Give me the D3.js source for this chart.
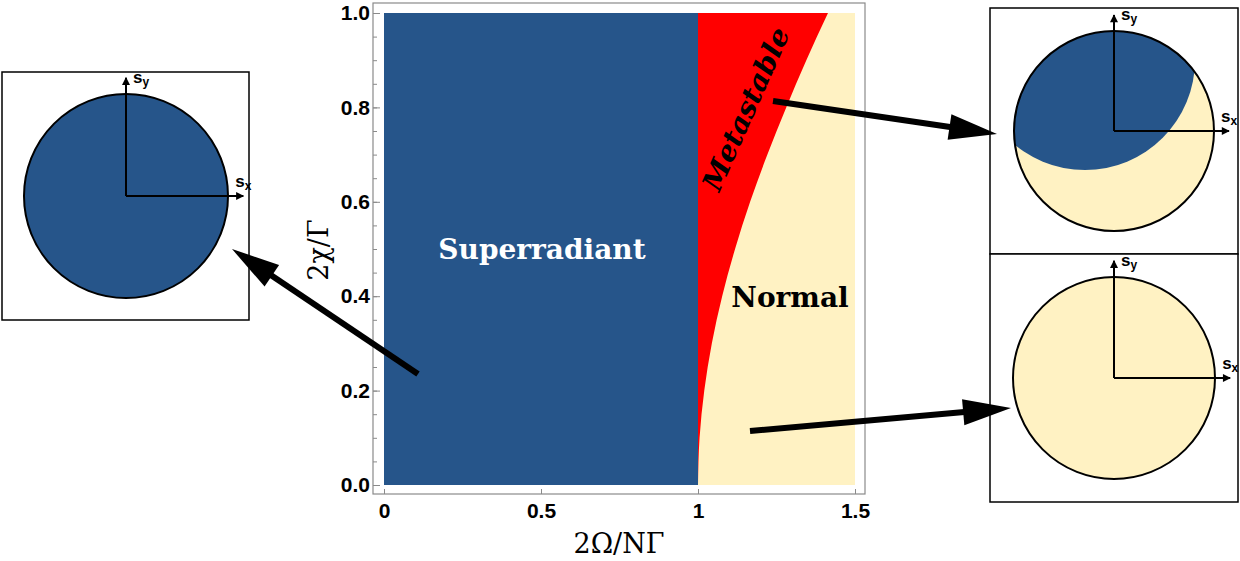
<!DOCTYPE html>
<html>
<head>
<meta charset="utf-8">
<script src="https://cdn.jsdelivr.net/npm/d3@7"></script>
<style>
  body { margin: 0; background: #fff; }
  svg { display: block; }
</style>
</head>
<body>
<div id="chart"></div>
<script>
// axis ticks of the phase diagram
let xTicks = [0, 0.5, 1, 1.5];
let xTickLabels = ['0', '0.5', '1', '1.5'];
let yTicks = [0, 0.2, 0.4, 0.6, 0.8, 1.0];
let yTickLabels = ['0.0', '0.2', '0.4', '0.6', '0.8', '1.0'];
let yMinorTicks = d3.range(0, 21).map(i => i / 20);

// metastable / normal boundary
let chiBoundary   = [0, 0.1, 0.2, 0.3, 0.4, 0.5, 0.6, 0.7, 0.8, 0.9, 1.0];
let omegaBoundary = [1.0, 1.005, 1.02, 1.044, 1.077, 1.118, 1.166, 1.221, 1.281, 1.345, 1.414];

let phaseNames = ['Superradiant', 'Metastable', 'Normal'];

// phase portraits in the (sx, sy) plane
let insetPhases = ['superradiant', 'bistable', 'normal'];
let bistableCenter = [-0.29, 0.71];
let bistableRadius = 1.1;

const blue = '#26558a';
const red = '#ff0000';
const cream = '#fff2c3';

var svg = d3.select('#chart')
    .append('svg')
    .attr('width', 1240)
    .attr('height', 561);

let x = d3.scaleLinear().domain([0, 1.5]).range([384, 855]);
let y = d3.scaleLinear().domain([0, 1]).range([485, 13]);

let frame = { left: 373, top: 3, right: 865, bottom: 494 };

// regions
let plot = svg.append('g').attr('id', 'plot');

plot.append('rect')
    .attr('x', x(0)).attr('y', y(1))
    .attr('width', x(1) - x(0)).attr('height', y(0) - y(1))
    .attr('fill', blue);

plot.append('rect')
    .attr('x', x(1)).attr('y', y(1))
    .attr('width', x(1.5) - x(1)).attr('height', y(0) - y(1))
    .attr('fill', cream);

let boundary = chiBoundary.map((c, i) => ({ chi: c, omega: omegaBoundary[i] }));

let area = d3.area()
    .y(d => y(d.chi))
    .x0(x(1))
    .x1(d => x(d.omega))
    .curve(d3.curveMonotoneY);

plot.append('path')
    .datum(boundary)
    .attr('d', area)
    .attr('fill', red);

// frame
svg.append('rect')
    .attr('x', frame.left).attr('y', frame.top)
    .attr('width', frame.right - frame.left)
    .attr('height', frame.bottom - frame.top)
    .attr('fill', 'none')
    .attr('stroke', '#8a8a8a')
    .attr('stroke-width', 1.2);

let yAxisMinor = d3.axisLeft(y).tickValues(yMinorTicks).tickSize(-4).tickFormat('');
svg.append('g')
    .attr('transform', 'translate(' + frame.left + ',0)')
    .call(yAxisMinor)
    .call(g => g.select('.domain').remove())
    .call(g => g.selectAll('line').attr('stroke', '#8a8a8a'));

let yAxis = d3.axisLeft(y)
    .tickValues(yTicks)
    .tickSize(-7)
    .tickPadding(3)
    .tickFormat((d, i) => yTickLabels[i]);
svg.append('g')
    .attr('transform', 'translate(' + frame.left + ',0)')
    .call(yAxis)
    .call(g => g.select('.domain').remove())
    .call(g => g.selectAll('line').attr('stroke', '#8a8a8a'))
    .call(g => g.selectAll('text')
        .attr('font-family', '"Liberation Sans", Arial, sans-serif')
        .attr('font-weight', 'bold')
        .attr('font-size', 21)
        .attr('fill', '#000'));

let xAxis = d3.axisBottom(x)
    .tickValues(xTicks)
    .tickSize(-5)
    .tickPadding(9)
    .tickFormat((d, i) => xTickLabels[i]);
svg.append('g')
    .attr('transform', 'translate(0,' + frame.bottom + ')')
    .call(xAxis)
    .call(g => g.select('.domain').remove())
    .call(g => g.selectAll('line').attr('stroke', '#8a8a8a'))
    .call(g => g.selectAll('text')
        .attr('font-family', '"Liberation Sans", Arial, sans-serif')
        .attr('font-weight', 'bold')
        .attr('font-size', 21)
        .attr('fill', '#000'));

// axis titles
svg.append('text')
    .attr('x', (frame.left + frame.right) / 2)
    .attr('y', 553)
    .attr('text-anchor', 'middle')
    .attr('font-family', '"DejaVu Serif", serif')
    .attr('font-size', 27)
    .text('2Ω/NΓ');

svg.append('text')
    .attr('transform', 'translate(328,250) rotate(-90)')
    .attr('text-anchor', 'middle')
    .attr('font-family', '"DejaVu Serif", serif')
    .attr('font-size', 27)
    .text('2χ/Γ');

// region names
svg.append('text')
    .attr('x', 542).attr('y', 259)
    .attr('text-anchor', 'middle')
    .attr('font-family', '"DejaVu Serif", serif')
    .attr('font-weight', 'bold')
    .attr('font-size', 28)
    .attr('fill', '#fff')
    .text(phaseNames[0]);

svg.append('text')
    .attr('transform', 'translate(746,109) rotate(-66)')
    .attr('text-anchor', 'middle')
    .attr('dominant-baseline', 'central')
    .attr('font-family', '"DejaVu Serif", serif')
    .attr('font-weight', 'bold')
    .attr('font-style', 'italic')
    .attr('font-size', 28)
    .attr('fill', '#000')
    .text(phaseNames[1]);

svg.append('text')
    .attr('x', 790).attr('y', 307)
    .attr('text-anchor', 'middle')
    .attr('font-family', '"DejaVu Serif", serif')
    .attr('font-weight', 'bold')
    .attr('font-size', 28)
    .attr('fill', '#000')
    .text(phaseNames[2]);

// insets
let insets = [
    { phase: insetPhases[0], box: [2, 72, 249, 320], cx: 126, cy: 196, r: 102 },
    { phase: insetPhases[1], box: [990, 8, 1238, 254], cx: 1114, cy: 131, r: 100 },
    { phase: insetPhases[2], box: [990, 254, 1238, 502], cx: 1114, cy: 378, r: 101 }
];

let defs = svg.append('defs');
defs.append('marker')
    .attr('id', 'axis-head')
    .attr('viewBox', '0 0 10 10')
    .attr('refX', 9).attr('refY', 5)
    .attr('markerWidth', 5).attr('markerHeight', 4)
    .attr('orient', 'auto')
    .append('path')
    .attr('d', 'M0,0 L10,5 L0,10 Z')
    .attr('fill', '#000');

insets.forEach((d, i) => {
    let g = svg.append('g').attr('class', 'inset ' + d.phase);
    let sx = d3.scaleLinear().domain([-1, 1]).range([d.cx - d.r, d.cx + d.r]);
    let sy = d3.scaleLinear().domain([-1, 1]).range([d.cy + d.r, d.cy - d.r]);

    g.append('rect')
        .attr('x', d.box[0]).attr('y', d.box[1])
        .attr('width', d.box[2] - d.box[0]).attr('height', d.box[3] - d.box[1])
        .attr('fill', '#fff')
        .attr('stroke', '#000')
        .attr('stroke-width', 1.5);

    let clipId = 'clip-' + i;
    g.append('clipPath').attr('id', clipId)
        .append('circle')
        .attr('cx', sx(0)).attr('cy', sy(0)).attr('r', sx(1) - sx(0));

    g.append('circle')
        .attr('cx', sx(0)).attr('cy', sy(0)).attr('r', sx(1) - sx(0))
        .attr('fill', d.phase == 'superradiant' ? blue : cream);

    if (d.phase == 'bistable') {
        g.append('circle')
            .attr('clip-path', 'url(#' + clipId + ')')
            .attr('cx', sx(bistableCenter[0]))
            .attr('cy', sy(bistableCenter[1]))
            .attr('r', sx(bistableRadius) - sx(0))
            .attr('fill', blue);
    }

    g.append('circle')
        .attr('cx', sx(0)).attr('cy', sy(0)).attr('r', sx(1) - sx(0))
        .attr('fill', 'none')
        .attr('stroke', '#000')
        .attr('stroke-width', 2);

    g.append('line')
        .attr('x1', sx(0)).attr('y1', sy(0))
        .attr('x2', sx(0)).attr('y2', sy(1.16))
        .attr('stroke', '#000').attr('stroke-width', 2)
        .attr('marker-end', 'url(#axis-head)');
    g.append('line')
        .attr('x1', sx(0)).attr('y1', sy(0))
        .attr('x2', sx(1.15)).attr('y2', sy(0))
        .attr('stroke', '#000').attr('stroke-width', 2)
        .attr('marker-end', 'url(#axis-head)');

    let ly = g.append('text')
        .attr('x', sx(0) + 7).attr('y', sy(1.16) + 5)
        .attr('font-family', '"Liberation Sans", Arial, sans-serif')
        .attr('font-weight', 'bold')
        .attr('font-size', 17);
    ly.append('tspan').text('s');
    ly.append('tspan').attr('dy', 3).attr('font-size', 12).text('y');

    let lx = g.append('text')
        .attr('x', sx(1.15) - 8).attr('y', sy(0) - 9)
        .attr('font-family', '"Liberation Sans", Arial, sans-serif')
        .attr('font-weight', 'bold')
        .attr('font-size', 17);
    lx.append('tspan').text('s');
    lx.append('tspan').attr('dy', 3).attr('font-size', 12).text('x');
});

// arrows from the phase regions to their portraits
let arrows = [
    { from: [418, 374], to: [232, 249] },
    { from: [773, 101], to: [997, 134] },
    { from: [750, 431], to: [1011, 408] }
];

arrows.forEach(a => {
    let dx = a.to[0] - a.from[0];
    let dy = a.to[1] - a.from[1];
    let len = Math.sqrt(dx * dx + dy * dy);
    let ux = dx / len, uy = dy / len;
    let headLen = 48, headHalf = 13;
    let bx = a.to[0] - ux * headLen, by = a.to[1] - uy * headLen;

    svg.append('line')
        .attr('x1', a.from[0]).attr('y1', a.from[1])
        .attr('x2', bx + ux * 4).attr('y2', by + uy * 4)
        .attr('stroke', '#000')
        .attr('stroke-width', 6);

    svg.append('path')
        .attr('d', 'M' + a.to[0] + ',' + a.to[1] +
            'L' + (bx - uy * headHalf) + ',' + (by + ux * headHalf) +
            'L' + (bx + uy * headHalf) + ',' + (by - ux * headHalf) + 'Z')
        .attr('fill', '#000');
});
</script>
</body>
</html>
